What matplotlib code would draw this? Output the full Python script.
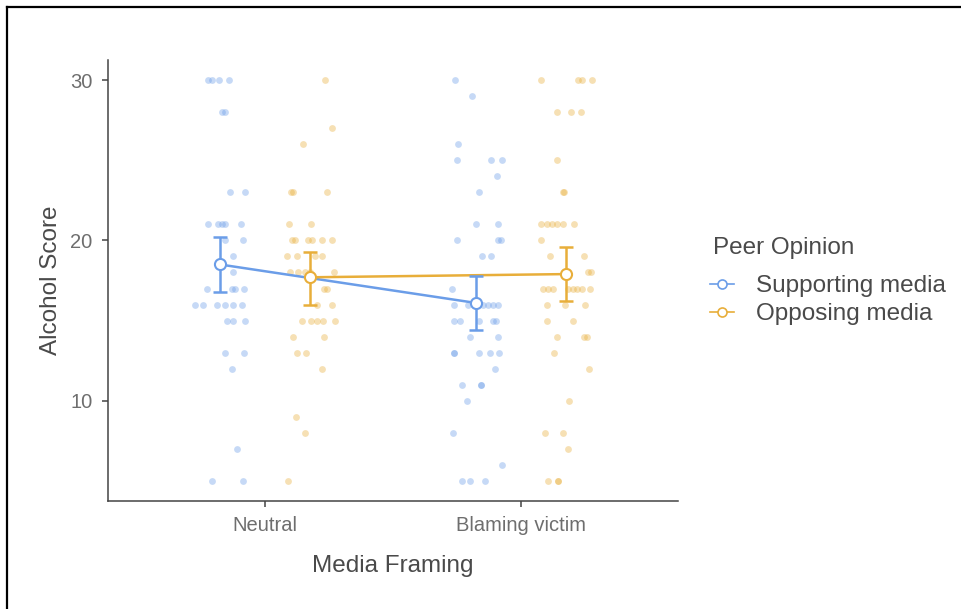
import numpy as np
import matplotlib.pyplot as plt
from matplotlib.lines import Line2D

plt.rcParams['font.family'] = ['Liberation Sans', 'DejaVu Sans']

# categories / groups
framing = ['Neutral', 'Blaming victim']
groups = ['Supporting media', 'Opposing media']
colors = ['#6B9DE8', '#E8AE3A']

# group means and 95% CI
sup_mean = [18.5, 16.1]
sup_lo = [16.8, 14.4]
sup_hi = [20.2, 17.8]
opp_mean = [17.7, 17.9]
opp_lo = [16.0, 16.25]
opp_hi = [19.3, 19.6]

# raw scores with jittered x positions (category units)
neu_sup_y = [30, 30, 30, 30, 28, 28, 23, 23, 21, 21, 21, 21, 21, 20, 20, 19, 18,
             17, 17, 17, 17, 16, 16, 16, 16, 16, 16, 15, 15, 15, 13, 13, 12, 7, 5, 5]
neu_sup_x = [0.777, 0.793, 0.820, 0.859, 0.832, 0.844, 0.863, 0.922, 0.777, 0.816,
             0.832, 0.844, 0.906, 0.844, 0.914, 0.875, 0.875, 0.773, 0.871, 0.883,
             0.918, 0.727, 0.758, 0.813, 0.844, 0.875, 0.910, 0.852, 0.875, 0.922,
             0.844, 0.918, 0.871, 0.891, 0.793, 0.914]

neu_opp_y = [30, 27, 26, 23, 23, 23, 21, 21, 20, 20, 20, 20, 20, 20, 19, 19, 19, 19,
             18, 18, 18, 18, 18, 17, 17, 16, 16, 15, 15, 15, 15, 15, 14, 14, 13, 13,
             12, 9, 8, 5]
neu_opp_x = [1.234, 1.262, 1.148, 1.102, 1.109, 1.242, 1.094, 1.180, 1.105, 1.117,
             1.168, 1.184, 1.223, 1.262, 1.086, 1.125, 1.195, 1.223, 1.098, 1.129,
             1.156, 1.176, 1.270, 1.230, 1.242, 1.203, 1.262, 1.145, 1.180, 1.203,
             1.227, 1.273, 1.109, 1.230, 1.125, 1.160, 1.223, 1.121, 1.156, 1.090]

bla_sup_y = [30, 29, 26, 25, 25, 25, 24, 23, 21, 21, 20, 20, 20, 19, 19, 17, 16, 16,
             16, 16, 16, 16, 15, 15, 15, 15, 15, 14, 14, 13, 13, 13, 13, 13, 12, 11,
             11, 11, 10, 8, 6, 5, 5, 5]
bla_sup_x = [1.742, 1.809, 1.754, 1.750, 1.883, 1.926, 1.906, 1.836, 1.824, 1.910,
             1.750, 1.910, 1.922, 1.848, 1.883, 1.730, 1.738, 1.793, 1.852, 1.871,
             1.891, 1.910, 1.738, 1.762, 1.836, 1.891, 1.902, 1.801, 1.910, 1.738,
             1.738, 1.836, 1.879, 1.914, 1.898, 1.770, 1.844, 1.844, 1.789, 1.734,
             1.926, 1.770, 1.801, 1.859]

bla_opp_y = [30, 30, 30, 30, 28, 28, 28, 25, 23, 23, 21, 21, 21, 21, 21, 21, 20, 19,
             19, 18, 18, 17, 17, 17, 17, 17, 17, 17, 17, 16, 16, 16, 15, 15, 14, 14,
             14, 13, 12, 10, 8, 8, 7, 5, 5, 5]
bla_opp_x = [2.078, 2.223, 2.238, 2.277, 2.141, 2.195, 2.234, 2.141, 2.164, 2.168,
             2.078, 2.102, 2.121, 2.141, 2.164, 2.207, 2.078, 2.113, 2.246, 2.262,
             2.273, 2.086, 2.105, 2.125, 2.184, 2.203, 2.219, 2.238, 2.270, 2.102,
             2.172, 2.250, 2.102, 2.203, 2.141, 2.246, 2.258, 2.129, 2.266, 2.188,
             2.094, 2.164, 2.184, 2.105, 2.145, 2.145]

dodge = 0.176

fig = plt.figure(figsize=(9.62, 6.09), dpi=100)
ax = fig.add_axes([108 / 962, 108 / 609, 570 / 962, 441 / 609])

# raw points
for xs, ys, c in [(neu_sup_x, neu_sup_y, colors[0]), (bla_sup_x, bla_sup_y, colors[0]),
                  (neu_opp_x, neu_opp_y, colors[1]), (bla_opp_x, bla_opp_y, colors[1])]:
    ax.scatter(xs, ys, s=24, color=c, alpha=0.38, linewidths=0, zorder=2)

# means, CIs
pos = np.arange(1, len(framing) + 1)
for k, (m, lo, hi) in enumerate([(sup_mean, sup_lo, sup_hi), (opp_mean, opp_lo, opp_hi)]):
    xk = pos + (-dodge if k == 0 else dodge)
    m = np.array(m)
    yerr = [m - np.array(lo), np.array(hi) - m]
    ax.plot(xk, m, color=colors[k], lw=1.8, zorder=3)
    ax.errorbar(xk, m, yerr=yerr, fmt='none', ecolor=colors[k], elinewidth=1.8,
                capsize=5, capthick=1.8, zorder=4)
    ax.plot(xk, m, 'o', ms=8, mfc='white', mec=colors[k], mew=1.5, zorder=5)

ax.set_xlim(0.387, 2.613)
ax.set_ylim(3.75, 31.25)
ax.set_xticks(pos)
ax.set_xticklabels(framing)
ax.set_yticks([10, 20, 30])
for s in ['top', 'right']:
    ax.spines[s].set_visible(False)
for s in ['left', 'bottom']:
    ax.spines[s].set_color('#444444')
    ax.spines[s].set_linewidth(1.1)
ax.tick_params(colors='#444444', labelcolor='#6e6e6e', labelsize=14.5, length=4,
               width=1.1, pad=7)
ax.set_xlabel('Media Framing', fontsize=17.5, color='#4a4a4a', labelpad=14)
ax.set_ylabel('Alcohol Score', fontsize=17.5, color='#4a4a4a', labelpad=6)

# legend
fig.text(713 / 962, 1 - 248 / 609, 'Peer Opinion', fontsize=17.5, color='#4a4a4a',
         ha='left', va='center')
handles = [Line2D([0], [0], color=colors[k], lw=1.2, marker='o', ms=6.5, mfc='white',
                  mec=colors[k], mew=1.2) for k in range(2)]
leg = fig.legend(handles, groups, loc='upper left',
                 bbox_to_anchor=(710 / 962, 1 - 275 / 609), frameon=False,
                 fontsize=17.5, handlelength=1.0, handletextpad=0.9,
                 labelspacing=0.25, borderaxespad=0, borderpad=0)
for t in leg.get_texts():
    t.set_color('#4a4a4a')

# screenshot frame (top and left edges)
fig.add_artist(Line2D([7.5 / 962, 7.5 / 962], [0, 1 - 6.5 / 609], color='black', lw=1.6))
fig.add_artist(Line2D([7.5 / 962, 1], [1 - 6.5 / 609, 1 - 6.5 / 609], color='black', lw=1.6))

fig.savefig('out.png', dpi=100)
